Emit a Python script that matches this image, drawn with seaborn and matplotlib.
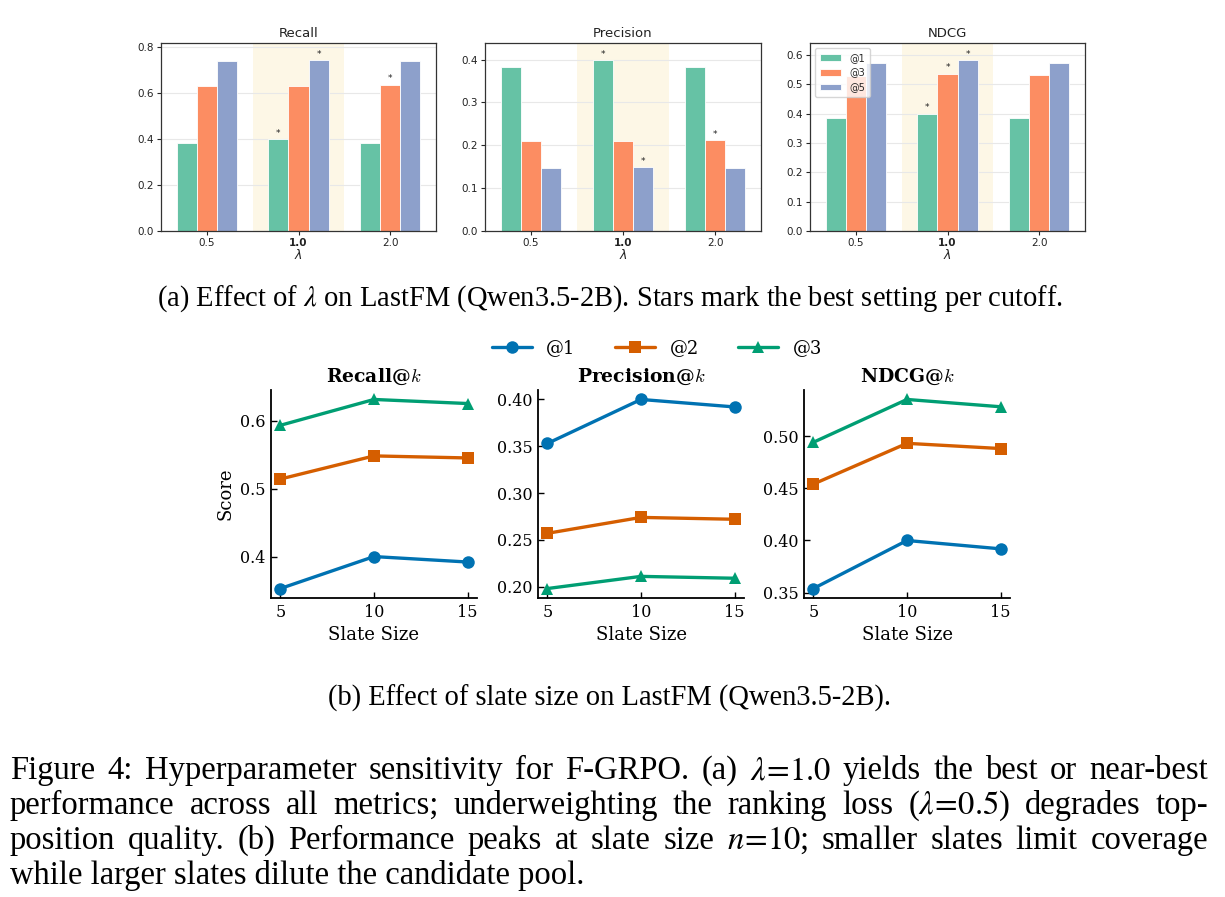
import matplotlib
matplotlib.use("Agg")
import matplotlib.pyplot as plt
import numpy as np
import pandas as pd
import seaborn as sns

# ---------------- (a) effect of lambda ----------------
lambdas = ["0.5", "1.0", "2.0"]
cutoffs_a = ["@1", "@3", "@5"]
recall_at1 = [0.383, 0.400, 0.383]
recall_at3 = [0.631, 0.633, 0.638]
recall_at5 = [0.739, 0.745, 0.739]
precision_at1 = [0.383, 0.399, 0.383]
precision_at3 = [0.210, 0.210, 0.212]
precision_at5 = [0.147, 0.149, 0.147]
ndcg_at1 = [0.384, 0.399, 0.384]
ndcg_at3 = [0.528, 0.536, 0.532]
ndcg_at5 = [0.573, 0.582, 0.573]
titles_a = ["Recall", "Precision", "NDCG"]

# ---------------- (b) effect of slate size ----------------
slate_sizes = [5, 10, 15]
cutoffs_b = ["@1", "@2", "@3"]
recall_k1 = [0.353, 0.400, 0.392]
recall_k2 = [0.514, 0.548, 0.545]
recall_k3 = [0.593, 0.631, 0.625]
precision_k1 = [0.353, 0.400, 0.392]
precision_k2 = [0.257, 0.274, 0.272]
precision_k3 = [0.198, 0.211, 0.209]
ndcg_k1 = [0.354, 0.400, 0.392]
ndcg_k2 = [0.454, 0.493, 0.488]
ndcg_k3 = [0.494, 0.535, 0.528]
titles_b = [r"Recall@$k$", r"Precision@$k$", r"NDCG@$k$"]
yticks_b = [[0.4, 0.5, 0.6], [0.20, 0.25, 0.30, 0.35, 0.40], [0.35, 0.40, 0.45, 0.50]]

caption_a = r"(a) Effect of $\lambda$ on LastFM (Qwen3.5-2B). Stars mark the best setting per cutoff."
caption_b = "(b) Effect of slate size on LastFM (Qwen3.5-2B)."
fig_caption_lines = [
    r"Figure 4: Hyperparameter sensitivity for F-GRPO. (a) $\lambda\!=\!1.0$ yields the best or near-best",
    r"performance across all metrics; underweighting the ranking loss ($\lambda\!=\!0.5$) degrades top-",
    r"position quality.  (b) Performance peaks at slate size $n\!=\!10$; smaller slates limit coverage",
    "while larger slates dilute the candidate pool.",
]

# ---------------- style ----------------
sns.set_style("ticks")
plt.rcParams["font.family"] = ["DejaVu Sans"]
plt.rcParams["mathtext.fontset"] = "dejavusans"

W, H = 1225, 897
fig = plt.figure(figsize=(W / 100, H / 100), dpi=100)


def px_axes(x0, y0, x1, y1):
    return fig.add_axes([x0 / W, 1 - y1 / H, (x1 - x0) / W, (y1 - y0) / H])


set2 = sns.color_palette("Set2", 3)
line_colors = ["#0072B2", "#D55E00", "#009E73"]

data_a = [
    [recall_at1, recall_at3, recall_at5],
    [precision_at1, precision_at3, precision_at5],
    [ndcg_at1, ndcg_at3, ndcg_at5],
]
boxes_a = [(161, 43, 436, 231), (485, 43, 761, 231), (810, 43, 1085, 231)]
yticks_a = [np.arange(0, 0.81, 0.2), np.arange(0, 0.41, 0.1), np.arange(0, 0.61, 0.1)]

for i, (series, title, box, yt) in enumerate(zip(data_a, titles_a, boxes_a, yticks_a)):
    ax = px_axes(*box)
    df = pd.DataFrame({
        "lam": lambdas * 3,
        "value": series[0] + series[1] + series[2],
        "cutoff": [c for c in cutoffs_a for _ in lambdas],
    })
    ax.axvspan(0.5, 1.5, color="#fdf7e6", zorder=0, lw=0)
    sns.barplot(data=df, x="lam", y="value", hue="cutoff", order=lambdas,
                hue_order=cutoffs_a, palette=set2, saturation=1, width=0.66,
                edgecolor="white", linewidth=0.6, ax=ax, zorder=2)
    ymax = max(max(s) for s in series)
    ax.set_ylim(0, ymax * 1.1)
    ax.set_xlim(-0.5, 2.5)
    ax.set_yticks(yt)
    ax.set_yticklabels([f"{v:.1f}" for v in yt])
    ax.yaxis.grid(True, color="#e8e8e8", lw=0.8, zorder=0)
    ax.set_axisbelow(True)
    for j, cont in enumerate(ax.containers):
        best = int(np.argmax(series[j]))
        bar = cont[best]
        ax.annotate("*", (bar.get_x() + bar.get_width() / 2, bar.get_height()),
                    xytext=(0, 1.0), textcoords="offset points", ha="center",
                    va="bottom", fontsize=6.5, color="#222222")
    ax.set_title(title, fontsize=9.5, pad=4, color="#222222")
    ax.set_xlabel(r"$\lambda$", fontsize=9, labelpad=0, color="#222222")
    ax.set_ylabel("")
    ax.tick_params(labelsize=7.5, length=3, width=0.8, pad=2, labelcolor="#222222")
    for lbl in ax.get_xticklabels():
        if lbl.get_text() == "1.0":
            lbl.set_fontweight("bold")
    for sp in ax.spines.values():
        sp.set_visible(True)
        sp.set_color("#333333")
        sp.set_linewidth(0.9)
    if i == 2:
        ax.legend(loc="upper left", fontsize=7, title=None, handlelength=2.2,
                  borderpad=0.5, labelspacing=0.5, framealpha=0.8)
    else:
        ax.get_legend().remove()

# ---------------- (b) line charts ----------------
data_b = [
    [recall_k1, recall_k2, recall_k3],
    [precision_k1, precision_k2, precision_k3],
    [ndcg_k1, ndcg_k2, ndcg_k3],
]
boxes_b = [(271, 390, 477, 598), (538, 390, 744, 598), (804, 390, 1010, 598)]
serif = "DejaVu Serif"
handles = labels = None
for i, (series, title, box, yt) in enumerate(zip(data_b, titles_b, boxes_b, yticks_b)):
    ax = px_axes(*box)
    df = pd.DataFrame({
        "slate": slate_sizes * 3,
        "value": series[0] + series[1] + series[2],
        "cutoff": [c for c in cutoffs_b for _ in slate_sizes],
    })
    sns.lineplot(data=df, x="slate", y="value", hue="cutoff", style="cutoff",
                 hue_order=cutoffs_b, style_order=cutoffs_b, palette=line_colors,
                 markers=["o", "s", "^"], dashes=False, linewidth=2.4,
                 markersize=9, markeredgewidth=0, ax=ax, legend=(i == 0))
    if i == 0:
        handles, labels = ax.get_legend_handles_labels()
        ax.get_legend().remove()
    sns.despine(ax=ax)
    for sp in ["left", "bottom"]:
        ax.spines[sp].set_linewidth(1.3)
        ax.spines[sp].set_color("black")
    ax.set_xticks(slate_sizes)
    ax.set_yticks(yt)
    ax.set_yticklabels([f"{v:.1f}" if i == 0 else f"{v:.2f}" for v in yt])
    ax.tick_params(direction="in", length=4, width=1, labelsize=11.5,
                   labelfontfamily=serif, pad=4, colors="black")
    ax.set_title(title, fontsize=13.5, fontweight="bold", family=serif,
                 math_fontfamily="cm", pad=6, color="black")
    ax.set_xlabel("Slate Size", fontsize=13, family=serif, color="black")
    if i == 0:
        ax.set_ylabel("Score", fontsize=13, family=serif, color="black")
    else:
        ax.set_ylabel("")

for h in handles:
    h.set_linewidth(2.4)
    h.set_markersize(9)
    h.set_markeredgewidth(0)
leg = fig.legend(handles, labels, loc="center", bbox_to_anchor=(657 / W, 1 - 348 / H),
                 ncol=3, frameon=False, prop={"family": serif, "size": 13},
                 handlelength=2.2, columnspacing=2.2, handletextpad=0.8)
for t in leg.get_texts():
    t.set_color("black")

# ---------------- captions ----------------
renderer = fig.canvas.get_renderer()
cap_font = dict(family="Liberation Serif", math_fontfamily="stix", color="black")


def width_of(t):
    return t.get_window_extent(renderer).width


ta = fig.text(610 / W, 1 - 306 / H, caption_a, ha="center", va="baseline",
              fontsize=20, **cap_font)
fs_a = 20 * 924 / width_of(ta) * 0.98
ta.set_fontsize(fs_a)
tb = fig.text(610 / W, 1 - 706 / H, caption_b, ha="center", va="baseline",
              fontsize=fs_a, **cap_font)

# figure caption: size fitted on last line, other lines justified
baselines = [779, 814, 849, 884]
x_left, x_right = 10, 1208
probe = fig.text(0, 0, fig_caption_lines[3], fontsize=20, **cap_font)
fs_c = 20 * (601 - x_left) / width_of(probe) * 0.975
probe.remove()


def split_words(line):
    # keep math segments intact
    words, cur, in_math = [], "", False
    for ch in line:
        if ch == "$":
            in_math = not in_math
        if ch == " " and not in_math:
            if cur:
                words.append(cur)
            cur = ""
        else:
            cur += ch
    if cur:
        words.append(cur)
    return words


for k, (line, yb) in enumerate(zip(fig_caption_lines, baselines)):
    if k == len(fig_caption_lines) - 1:
        fig.text(x_left / W, 1 - yb / H, line, ha="left", va="baseline",
                 fontsize=fs_c, **cap_font)
        continue
    words = split_words(line)
    texts = [fig.text(0, 1 - yb / H, w, ha="left", va="baseline", fontsize=fs_c, **cap_font)
             for w in words]
    widths = [width_of(t) for t in texts]
    gap = (x_right - x_left - sum(widths)) / (len(words) - 1)
    x = x_left
    for t, w in zip(texts, widths):
        t.set_x(x / W)
        x += w + gap

fig.savefig("out.png", dpi=100, facecolor="white")
